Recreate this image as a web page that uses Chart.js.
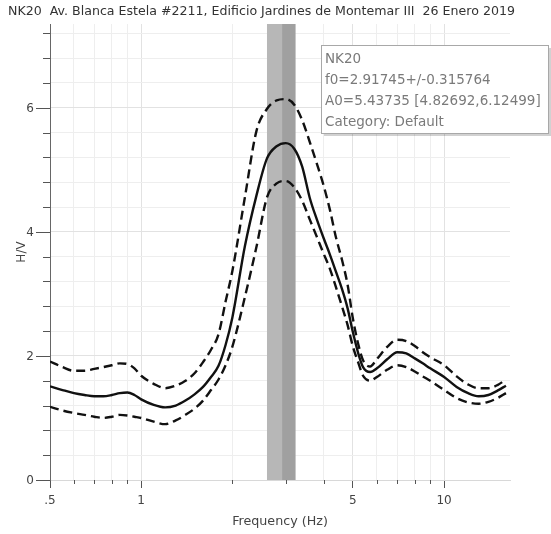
<!DOCTYPE html>
<html>
<head>
<meta charset="utf-8">
<script src="https://cdn.jsdelivr.net/npm/chart.js@4/dist/chart.umd.min.js"></script>
<style>
  html, body { margin: 0; padding: 0; background: #ffffff; }
  canvas { display: block; }
</style>
</head>
<body>
<canvas id="c" width="551" height="534"></canvas>
<script>
// ---- data ----
const titleText = "NK20  Av. Blanca Estela #2211, Edificio Jardines de Montemar III  26 Enero 2019";
const xAxisTitle = "Frequency (Hz)";
const yAxisTitle = "H/V";

const freq = [0.5,0.55,0.6,0.65,0.7,0.75,0.8,0.85,0.9,0.95,
  1.0,1.1,1.2,1.3,1.4,1.5,1.6,1.7,1.8,1.9,
  2.0,2.2,2.4,2.6,2.8,
  3.0,3.2,3.4,3.6,3.8,
  4.0,4.2,4.4,4.6,4.8,
  5.0,5.2,5.4,5.7,
  6.0,6.5,7.0,7.5,8.0,8.5,9.0,
  10,11,12,13,14,15,16];

const hvMean = [1.51,1.45,1.40,1.37,1.35,1.35,1.37,1.40,1.41,1.37,
  1.30,1.21,1.17,1.20,1.28,1.38,1.50,1.66,1.84,2.18,
  2.62,3.77,4.58,5.18,5.38,
  5.43,5.34,5.05,4.55,4.20,
  3.90,3.63,3.35,3.08,2.77,
  2.38,2.05,1.82,1.74,
  1.80,1.95,2.06,2.04,1.96,1.88,1.80,
  1.66,1.50,1.40,1.35,1.37,1.44,1.52];

const hvUpper = [1.91,1.82,1.76,1.76,1.79,1.82,1.85,1.88,1.87,1.80,
  1.68,1.55,1.48,1.52,1.60,1.72,1.90,2.10,2.35,2.88,
  3.37,4.56,5.62,5.98,6.12,
  6.14,6.05,5.80,5.45,5.10,
  4.75,4.35,3.90,3.55,3.15,
  2.60,2.20,1.93,1.83,
  1.95,2.15,2.26,2.24,2.16,2.06,1.98,
  1.85,1.67,1.54,1.48,1.48,1.53,1.62];

const hvLower = [1.18,1.12,1.08,1.05,1.02,1.00,1.02,1.05,1.04,1.02,
  1.00,0.94,0.90,0.96,1.05,1.15,1.28,1.45,1.62,1.85,
  2.15,2.95,3.75,4.55,4.78,
  4.82,4.72,4.50,4.20,3.92,
  3.65,3.40,3.10,2.80,2.50,
  2.15,1.90,1.68,1.60,
  1.66,1.78,1.85,1.82,1.75,1.67,1.60,
  1.45,1.32,1.25,1.23,1.26,1.32,1.40];

const f0 = 2.91745;
const f0Err = 0.315764;

const xTickValues = [0.5,0.6,0.7,0.8,0.9,1,2,3,4,5,6,7,8,9,10];
const xMajorLabels = {0.5: ".5", 1: "1", 5: "5", 10: "10"};
const yMajorLabels = {0: "0", 2: "2", 4: "4", 6: "6"};

const infoLines = ["NK20", "f0=2.91745+/-0.315764", "A0=5.43735 [4.82692,6.12499]", "Category: Default"];

// ---- helpers ----
const pts = (ys) => freq.map((f, i) => ({x: f, y: ys[i]}));
const isYMajor = (v) => Math.abs(v / 2 - Math.round(v / 2)) < 1e-6;
const isXMajor = (v) => xMajorLabels[v] !== undefined;

const bandPlugin = {
  id: 'band',
  beforeDatasetsDraw(chart) {
    const {ctx, chartArea, scales} = chart;
    const xs = scales.x;
    const xl = xs.getPixelForValue(f0 - f0Err);
    const xm = xs.getPixelForValue(f0);
    const xr = xs.getPixelForValue(f0 + f0Err);
    ctx.save();
    ctx.fillStyle = '#b7b7b7';
    ctx.fillRect(xl, chartArea.top, xm - xl, chartArea.bottom - chartArea.top);
    ctx.fillStyle = '#a0a0a0';
    ctx.fillRect(xm, chartArea.top, xr - xm, chartArea.bottom - chartArea.top);
    ctx.restore();
  }
};

const decorPlugin = {
  id: 'decor',
  afterDraw(chart) {
    const {ctx, chartArea, scales} = chart;
    ctx.save();
    ctx.strokeStyle = '#555';
    ctx.lineWidth = 1;
    // y ticks and labels
    ctx.fillStyle = '#444';
    ctx.font = '12px "DejaVu Sans"';
    ctx.textAlign = 'right';
    ctx.textBaseline = 'middle';
    scales.y.ticks.forEach(t => {
      const major = isYMajor(t.value);
      const y = Math.round(scales.y.getPixelForValue(t.value)) + 0.5;
      const len = major ? 14 : 7;
      ctx.beginPath(); ctx.moveTo(chartArea.left - len, y); ctx.lineTo(chartArea.left, y); ctx.stroke();
      if (major) ctx.fillText(yMajorLabels[Math.round(t.value)], chartArea.left - 16, y);
    });
    // x minor ticks
    scales.x.ticks.forEach(t => {
      if (!isXMajor(t.value)) {
        const x = Math.round(scales.x.getPixelForValue(t.value)) + 0.5;
        ctx.beginPath(); ctx.moveTo(x, chartArea.bottom); ctx.lineTo(x, chartArea.bottom + 4); ctx.stroke();
      }
    });
    // title
    ctx.fillStyle = '#333';
    ctx.font = '12.6px "DejaVu Sans"';
    ctx.textAlign = 'left';
    ctx.textBaseline = 'middle';
    ctx.fillText(titleText, 8, 12);
    // info box
    const bx = 321, by = 45, bw = 227, bh = 88;
    ctx.fillStyle = 'rgba(0,0,0,0.18)';
    ctx.fillRect(bx + 3, by + 3, bw, bh);
    ctx.fillStyle = '#ffffff';
    ctx.fillRect(bx, by, bw, bh);
    ctx.strokeStyle = '#a8a8a8';
    ctx.strokeRect(bx + 0.5, by + 0.5, bw, bh);
    ctx.fillStyle = '#7a7a7a';
    ctx.font = '13.5px "DejaVu Sans"';
    infoLines.forEach((s, i) => ctx.fillText(s, bx + 4, by + 14 + i * 21.3));
    ctx.restore();
  }
};

const lineCommon = {
  borderColor: '#111',
  backgroundColor: '#111',
  borderWidth: 2.4,
  pointRadius: 0,
  fill: false,
  cubicInterpolationMode: 'monotone'
};

new Chart(document.getElementById('c'), {
  type: 'line',
  data: {
    datasets: [
      Object.assign({label: 'upper', data: pts(hvUpper), borderDash: [9, 5]}, lineCommon),
      Object.assign({label: 'mean', data: pts(hvMean)}, lineCommon),
      Object.assign({label: 'lower', data: pts(hvLower), borderDash: [9, 5]}, lineCommon)
    ]
  },
  options: {
    responsive: false,
    animation: false,
    devicePixelRatio: 1,
    layout: {padding: {top: 24, right: 41, left: 0, bottom: 0}},
    plugins: {legend: {display: false}, tooltip: {enabled: false}, title: {display: false}},
    scales: {
      x: {
        type: 'logarithmic',
        min: 0.5, max: 16.5,
        afterBuildTicks: (s) => { s.ticks = xTickValues.map(v => ({value: v})); },
        afterFit: (s) => { s.height = 54; },
        ticks: {
          autoSkip: false, maxRotation: 0, padding: 6,
          color: '#444', font: {family: 'DejaVu Sans', size: 12},
          callback: (v) => xMajorLabels[v] !== undefined ? xMajorLabels[v] : ''
        },
        grid: {
          drawTicks: true, tickLength: 8,
          color: (c) => (c.tick && isXMajor(c.tick.value)) ? '#e2e2e2' : '#eeeeee',
          tickColor: (c) => (c.tick && isXMajor(c.tick.value)) ? '#555' : 'rgba(0,0,0,0)'
        },
        border: {display: true, color: '#d8d8d8'},
        title: {display: true, text: xAxisTitle, color: '#444', font: {family: 'DejaVu Sans', size: 12.7}, padding: {top: 0, bottom: 5}}
      },
      y: {
        type: 'linear',
        min: 0, max: 7.35,
        afterFit: (s) => { s.width = 50; },
        ticks: {
          stepSize: 0.4, includeBounds: false, autoSkip: false, display: false
        },
        grid: {
          drawTicks: false,
          color: (c) => (c.tick && isYMajor(c.tick.value)) ? '#e2e2e2' : '#eeeeee'
        },
        border: {display: true, color: '#666'},
        title: {display: true, text: yAxisTitle, color: '#444', font: {family: 'DejaVu Sans', size: 12}, padding: {top: 15, bottom: 0}}
      }
    }
  },
  plugins: [bandPlugin, decorPlugin]
});
</script>
</body>
</html>
